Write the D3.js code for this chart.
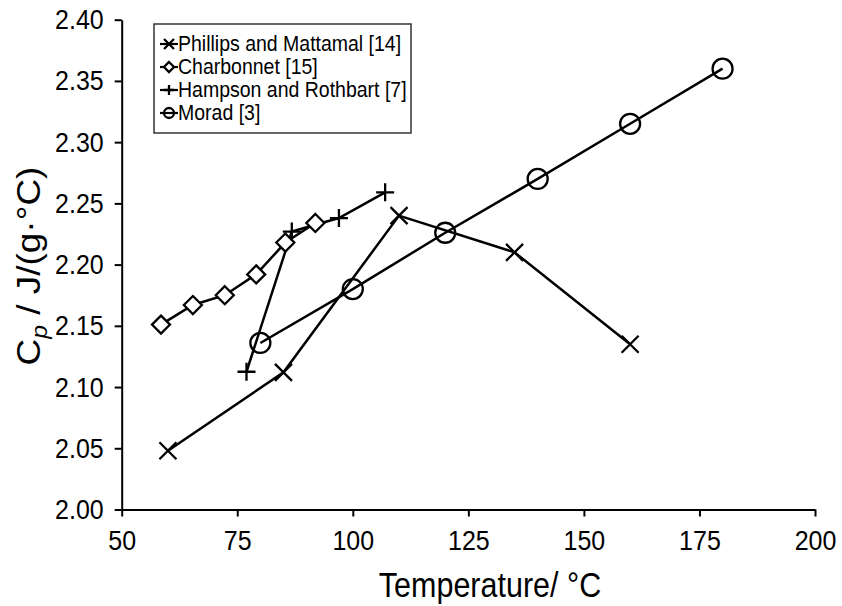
<!DOCTYPE html>
<html>
<head>
<meta charset="utf-8">
<script src="https://cdn.jsdelivr.net/npm/d3@7"></script>
<style>
  html, body { margin: 0; padding: 0; background: #fff; }
  svg { display: block; font-family: "Liberation Sans", Arial, sans-serif; }
</style>
</head>
<body>
<svg id="chart" width="842" height="606"></svg>
<script>
// Heat capacity data sets (temperature in °C, Cp in J/(g·°C))
const phillipsT  = [60, 85, 110, 135, 160];
const phillipsCp = [2.048, 2.112, 2.240, 2.210, 2.135];

const charbonnetT  = [58.5, 65.4, 72.3, 79.1, 85.4, 91.9];
const charbonnetCp = [2.151, 2.167, 2.175, 2.192, 2.218, 2.234];

const hampsonT  = [77.0, 86.8, 97.0, 107.0];
const hampsonCp = [2.1125, 2.227, 2.238, 2.259];

const moradT  = [80, 100, 120, 140, 160, 180];
const moradCp = [2.136, 2.180, 2.226, 2.270, 2.315, 2.360];

const seriesNames = ["Phillips and Mattamal [14]", "Charbonnet [15]", "Hampson and Rothbart [7]", "Morad [3]"];
const xTicks = [50, 75, 100, 125, 150, 175, 200];
const yTicks = [2.00, 2.05, 2.10, 2.15, 2.20, 2.25, 2.30, 2.35, 2.40];

const svg = d3.select("#chart");
const plotLeft = 121.7, plotRight = 815, plotTop = 19.7, plotBottom = 509.5;

const x = d3.scaleLinear().domain([50, 200]).range([plotLeft, plotRight]);
const y = d3.scaleLinear().domain([2.00, 2.40]).range([plotBottom, plotTop]);

// text is slightly taller than wide, as in the exported figure
const stretch = "scale(1,1.12)";

// axes
const xAxis = svg.append("g").attr("transform", `translate(0,${plotBottom})`)
  .call(d3.axisBottom(x).tickValues(xTicks).tickSize(7).tickSizeOuter(0).tickFormat(d3.format("d")));
const yAxis = svg.append("g").attr("transform", `translate(${plotLeft},0)`)
  .call(d3.axisLeft(y).tickValues(yTicks).tickSize(7).tickSizeOuter(0).tickFormat(d3.format(".2f")));

[xAxis, yAxis].forEach(g => {
  g.select(".domain").attr("stroke", "#000").attr("stroke-width", 2);
  g.selectAll(".tick line").attr("stroke", "#000").attr("stroke-width", 2);
});
xAxis.selectAll(".tick text").attr("y", null).attr("dy", null)
  .attr("font-size", 25).attr("fill", "#000")
  .attr("transform", `translate(0,40) ${stretch}`);
yAxis.selectAll(".tick text").attr("x", null).attr("dy", null)
  .attr("font-size", 25).attr("fill", "#000")
  .attr("transform", `translate(-18,9) ${stretch}`);

// axis titles
svg.append("text")
  .attr("transform", `translate(490,597) ${stretch}`)
  .attr("text-anchor", "middle").attr("font-size", 30.5).attr("fill", "#000")
  .text("Temperature/ °C");

const yTitle = svg.append("text")
  .attr("transform", `translate(40,266) rotate(-90) scale(1.12,1)`)
  .attr("text-anchor", "middle").attr("font-size", 33).attr("fill", "#000");
yTitle.append("tspan").text("C");
yTitle.append("tspan").attr("font-style", "italic").attr("font-size", 22).attr("dy", 7).text("p");
yTitle.append("tspan").attr("dy", -7).text(" / J/(g·°C)");

// marker shapes
function drawMarker(g, kind, s) {
  let el;
  if (kind === "x") {
    el = g.append("path").attr("d", `M${-s},${-s}L${s},${s}M${-s},${s}L${s},${-s}`).attr("fill", "none");
  } else if (kind === "diamond") {
    el = g.append("path").attr("d", `M0,${-s}L${s},0L0,${s}L${-s},0Z`).attr("fill", "#fff");
  } else if (kind === "plus") {
    el = g.append("path").attr("d", `M${-s},0L${s},0M0,${-s}L0,${s}`).attr("fill", "none");
  } else {
    el = g.append("circle").attr("r", s).attr("fill", "none");
  }
  el.attr("stroke", "#000").attr("stroke-width", 2.3);
}

const series = [
  { name: seriesNames[0], t: phillipsT, cp: phillipsCp, kind: "x", size: 8.5 },
  { name: seriesNames[1], t: charbonnetT, cp: charbonnetCp, kind: "diamond", size: 9 },
  { name: seriesNames[2], t: hampsonT, cp: hampsonCp, kind: "plus", size: 9 },
  { name: seriesNames[3], t: moradT, cp: moradCp, kind: "circle", size: 10 }
];

const line = d3.line().x(d => x(d[0])).y(d => y(d[1]));

series.forEach(s => {
  const pts = s.t.map((t, i) => [t, s.cp[i]]);
  svg.append("path").datum(pts).attr("d", line)
    .attr("fill", "none").attr("stroke", "#000").attr("stroke-width", 2.5);
});
series.forEach(s => {
  s.t.forEach((t, i) => {
    const g = svg.append("g").attr("transform", `translate(${x(t)},${y(s.cp[i])})`);
    drawMarker(g, s.kind, s.size);
  });
});

// legend
const lg = svg.append("g");
lg.append("rect").attr("x", 154).attr("y", 24).attr("width", 257).attr("height", 109)
  .attr("fill", "#fff").attr("stroke", "#333").attr("stroke-width", 1.5);
series.forEach((s, i) => {
  const cy = 44 + i * 23;
  lg.append("line").attr("x1", 160).attr("x2", 178).attr("y1", cy).attr("y2", cy)
    .attr("stroke", "#000").attr("stroke-width", 2.2);
  const g = lg.append("g").attr("transform", `translate(169,${cy})`);
  drawMarker(g, s.kind, 5);
  lg.append("text").attr("transform", `translate(178,${cy + 7}) ${stretch}`)
    .attr("font-size", 19.5).attr("fill", "#000").text(s.name);
});
</script>
</body>
</html>
